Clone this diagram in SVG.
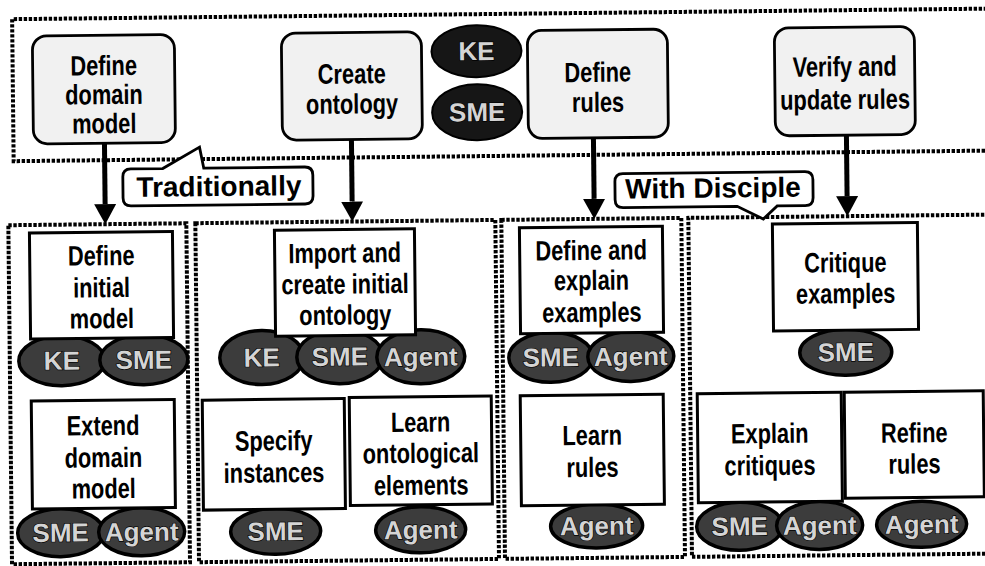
<svg xmlns="http://www.w3.org/2000/svg" width="985" height="566" viewBox="0 0 985 566">
<style>
.region{fill:none;stroke:#000;stroke-width:4;stroke-dasharray:3.4 1.6}
.top{fill:#f1f1f1;stroke:#000;stroke-width:2.8}
.box{fill:#fff;stroke:#000;stroke-width:3}
.lbl{font-family:"Liberation Sans",Arial,sans-serif;font-weight:bold;font-size:28px;text-anchor:middle;fill:#000}
.role ellipse{fill:#3c3c3c;stroke:#000;stroke-width:3.5}
.legend ellipse{fill:#161616;stroke:#000;stroke-width:2}
.role text,.legend text{font-family:"Liberation Sans",Arial,sans-serif;font-weight:bold;font-size:26px;text-anchor:middle;fill:#d4d4d4;stroke:#000;stroke-width:1.2;paint-order:stroke}
.callout path{fill:#fff;stroke:#000;stroke-width:2.8}
.callout text{font-family:"Liberation Sans",Arial,sans-serif;font-weight:bold;font-size:28px;text-anchor:middle;fill:#000}
.arrow{stroke:#000;stroke-width:5;fill:none;marker-end:url(#ah)}
</style>
<defs>
<marker id="ah" markerUnits="userSpaceOnUse" markerWidth="22" markerHeight="22" refX="0" refY="11" orient="auto">
<path d="M0,0 L20,11 L0,22 Z" fill="#000"/>
</marker>
</defs>
<rect width="985" height="566" fill="#fff"/>
<g transform="rotate(-0.62 492 283)">
<g id="regions">
<path class="region" d="M1010,14 H15 V156 H1010"/>
<rect class="region" x="9" y="220" width="178" height="339"/>
<rect class="region" x="196" y="220" width="300" height="339"/>
<rect class="region" x="502" y="220" width="180" height="339"/>
<path class="region" d="M1010,220 H689 V559 H1010"/>
</g>

<g id="connectors">
<line class="arrow" x1="106" y1="139" x2="106" y2="200"/>
<line class="arrow" x1="353" y1="138" x2="353" y2="200"/>
<line class="arrow" x1="595" y1="139" x2="595" y2="200"/>
<line class="arrow" x1="848" y1="139" x2="848" y2="200"/>
</g>

<g id="top-define-domain-model">
<rect class="top" x="35" y="31" width="142" height="108" rx="14"/>
<text class="lbl" transform="translate(106 0) scale(0.78 1)"><tspan x="0" y="71">Define</tspan><tspan x="0" y="100">domain</tspan><tspan x="0" y="129">model</tspan></text>
</g>
<g id="top-create-ontology">
<rect class="top" x="284" y="31" width="140" height="107" rx="14"/>
<text class="lbl" transform="translate(354 0) scale(0.78 1)"><tspan x="0" y="82">Create</tspan><tspan x="0" y="112">ontology</tspan></text>
</g>
<g id="legend" class="legend">
<ellipse cx="479" cy="51" rx="45" ry="26"/>
<text x="479" y="60">KE</text>
<ellipse cx="479" cy="112" rx="45" ry="28"/>
<text x="479" y="121">SME</text>
</g>
<g id="top-define-rules">
<rect class="top" x="530" y="31" width="140" height="108" rx="14"/>
<text class="lbl" transform="translate(600 0) scale(0.78 1)"><tspan x="0" y="83">Define</tspan><tspan x="0" y="113">rules</tspan></text>
</g>
<g id="top-verify-update-rules">
<rect class="top" x="777" y="31" width="140" height="108" rx="14"/>
<text class="lbl" transform="translate(847 0) scale(0.78 1)"><tspan x="0" y="80">Verify and</tspan><tspan x="0" y="113">update rules</tspan></text>
</g>

<g id="callout-traditionally" class="callout">
<path d="M132,165 H164 L201,144 L205,165 H306 Q314,165 314,173 V194 Q314,202 306,202 H132 Q124,202 124,194 V173 Q124,165 132,165 Z"/>
<text x="220" y="193">Traditionally</text>
</g>
<g id="callout-disciple" class="callout">
<path d="M624,175 H806 Q814,175 814,183 V201 Q814,209 806,209 H778 L764,222 L738,209 H624 Q616,209 616,201 V183 Q616,175 624,175 Z"/>
<text x="714" y="200">With Disciple</text>
</g>

<g id="define-initial-model">
<g class="role">
<ellipse cx="61" cy="356" rx="43" ry="25"/><text x="61" y="365">KE</text>
<ellipse cx="143" cy="356" rx="44" ry="25"/><text x="143" y="365">SME</text>
</g>
<rect class="box" x="30" y="228" width="143" height="106"/>
<text class="lbl" transform="translate(101.5 0) scale(0.78 1)"><tspan x="0" y="261">Define</tspan><tspan x="0" y="293">initial</tspan><tspan x="0" y="324">model</tspan></text>
</g>
<g id="extend-domain-model">
<g class="role">
<ellipse cx="58" cy="528" rx="43" ry="24"/><text x="58" y="537">SME</text>
<ellipse cx="139" cy="528" rx="43" ry="24"/><text x="139" y="537">Agent</text>
</g>
<rect class="box" x="30" y="396" width="143" height="108"/>
<text class="lbl" transform="translate(101.5 0) scale(0.78 1)"><tspan x="0" y="431">Extend</tspan><tspan x="0" y="463">domain</tspan><tspan x="0" y="494">model</tspan></text>
</g>

<g id="import-create-ontology">
<g class="role">
<ellipse cx="261" cy="355" rx="42" ry="27"/><text x="261" y="364">KE</text>
<ellipse cx="339" cy="355" rx="43" ry="27"/><text x="339" y="364">SME</text>
<ellipse cx="420" cy="356" rx="44" ry="27"/><text x="420" y="365">Agent</text>
</g>
<rect class="box" x="275" y="228" width="140" height="106"/>
<text class="lbl" transform="translate(345 0) scale(0.78 1)"><tspan x="0" y="261">Import and</tspan><tspan x="0" y="292">create initial</tspan><tspan x="0" y="323">ontology</tspan></text>
</g>
<g id="specify-instances">
<g class="role">
<ellipse cx="273" cy="529" rx="45" ry="23"/><text x="273" y="538">SME</text>
</g>
<rect class="box" x="201" y="397" width="142" height="110"/>
<text class="lbl" transform="translate(272 0) scale(0.78 1)"><tspan x="0" y="448">Specify</tspan><tspan x="0" y="480">instances</tspan></text>
</g>
<g id="learn-ontological-elements">
<g class="role">
<ellipse cx="418" cy="529" rx="45" ry="23"/><text x="418" y="538">Agent</text>
</g>
<rect class="box" x="348" y="396" width="142" height="108"/>
<text class="lbl" transform="translate(419 0) scale(0.78 1)"><tspan x="0" y="431">Learn</tspan><tspan x="0" y="462">ontological</tspan><tspan x="0" y="494">elements</tspan></text>
</g>

<g id="define-explain-examples">
<g class="role">
<ellipse cx="550" cy="358" rx="42" ry="25"/><text x="550" y="367">SME</text>
<ellipse cx="630" cy="358" rx="43" ry="25"/><text x="630" y="367">Agent</text>
</g>
<rect class="box" x="520" y="228" width="143" height="106"/>
<text class="lbl" transform="translate(591.5 0) scale(0.78 1)"><tspan x="0" y="261">Define and</tspan><tspan x="0" y="291">explain</tspan><tspan x="0" y="323">examples</tspan></text>
</g>
<g id="learn-rules">
<g class="role">
<ellipse cx="594" cy="527" rx="46" ry="22"/><text x="594" y="536">Agent</text>
</g>
<rect class="box" x="519" y="396" width="143" height="110"/>
<text class="lbl" transform="translate(590.5 0) scale(0.78 1)"><tspan x="0" y="446">Learn</tspan><tspan x="0" y="478">rules</tspan></text>
</g>

<g id="critique-examples">
<g class="role">
<ellipse cx="845" cy="356" rx="46" ry="23"/><text x="845" y="365">SME</text>
</g>
<rect class="box" x="773" y="227" width="145" height="107"/>
<text class="lbl" transform="translate(845.5 0) scale(0.78 1)"><tspan x="0" y="276">Critique</tspan><tspan x="0" y="307">examples</tspan></text>
</g>
<g id="explain-critiques">
<g class="role">
<ellipse cx="737" cy="529" rx="43" ry="24"/><text x="737" y="538">SME</text>
<ellipse cx="817" cy="529" rx="43" ry="24"/><text x="817" y="538">Agent</text>
</g>
<rect class="box" x="696" y="396" width="144" height="109"/>
<text class="lbl" transform="translate(768 0) scale(0.78 1)"><tspan x="0" y="446">Explain</tspan><tspan x="0" y="478">critiques</tspan></text>
</g>
<g id="refine-rules">
<g class="role">
<ellipse cx="919" cy="529" rx="45" ry="23"/><text x="919" y="538">Agent</text>
</g>
<rect class="box" x="843" y="396" width="139" height="106"/>
<text class="lbl" transform="translate(912.5 0) scale(0.78 1)"><tspan x="0" y="447">Refine</tspan><tspan x="0" y="478">rules</tspan></text>
</g>
</g>
</svg>
